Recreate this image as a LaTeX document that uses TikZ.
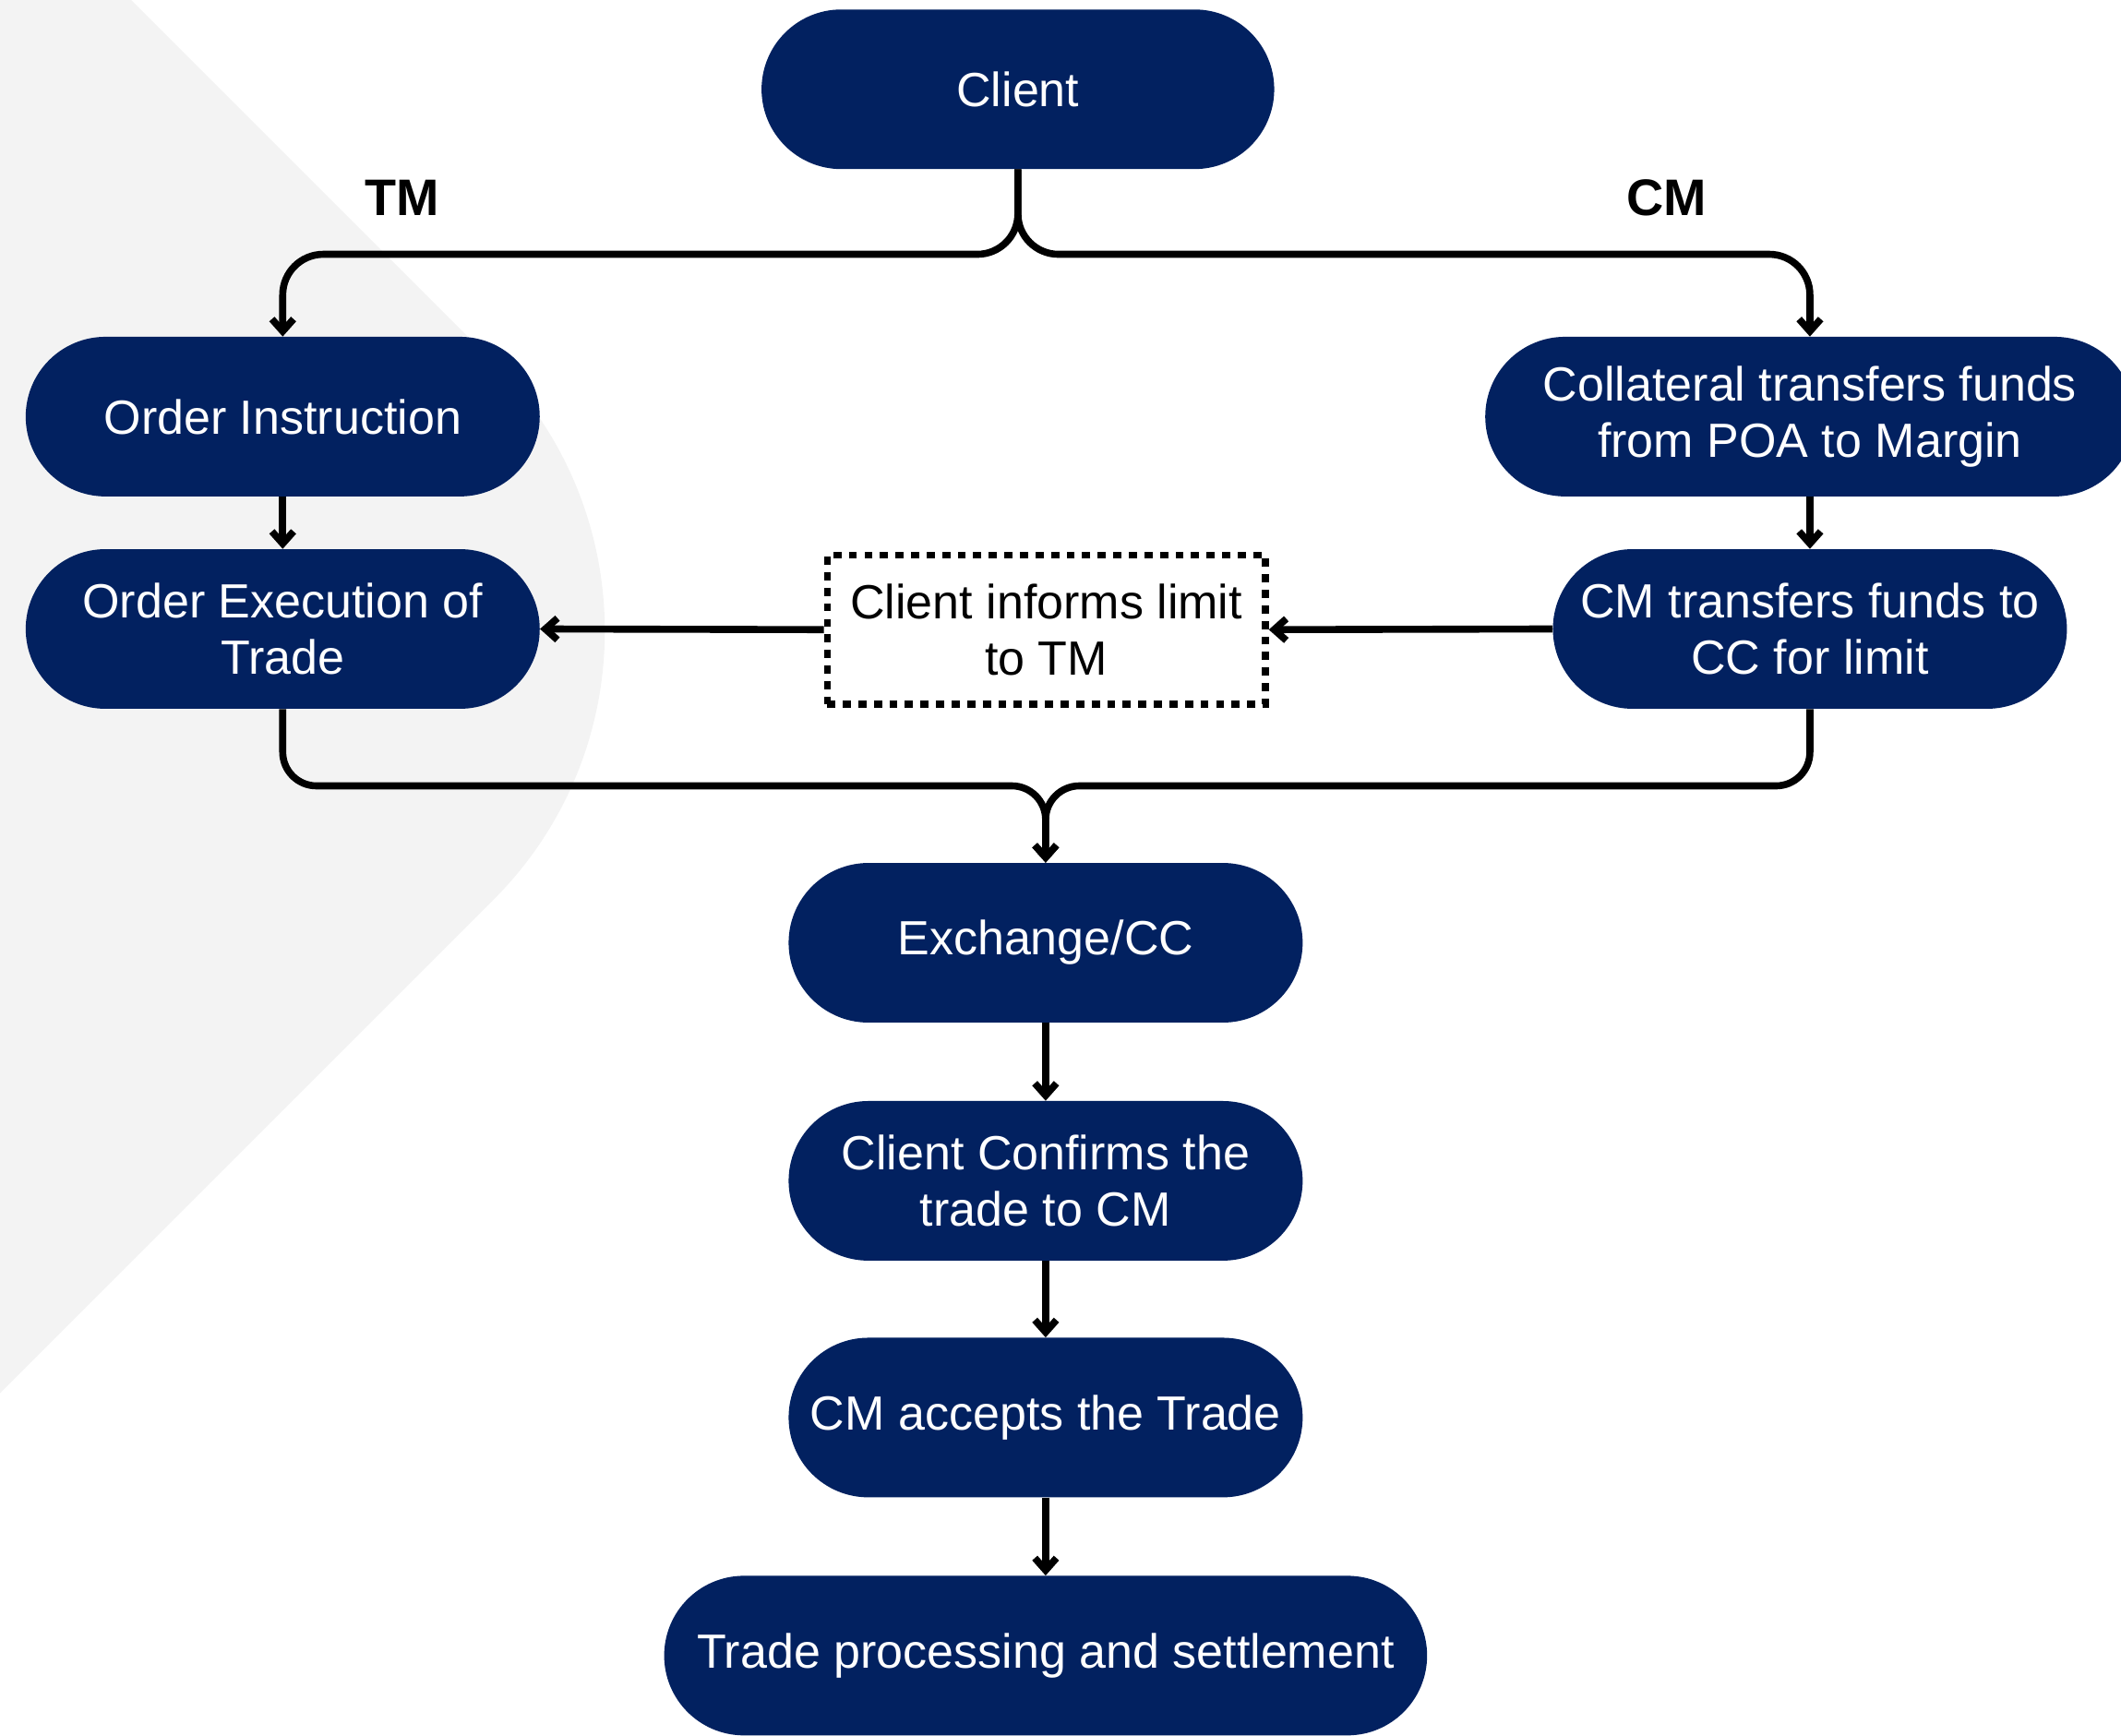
\documentclass[tikz,border=0pt]{standalone}
\usepackage{fontspec}
\setmainfont{Liberation Sans}
\usetikzlibrary{arrows.meta}
\definecolor{navy}{RGB}{2,33,96}
\definecolor{bggray}{RGB}{243,243,243}
\begin{document}
\begin{tikzpicture}[x=1pt,y=-1pt,
  pill/.style={fill=navy, rounded corners=59pt, minimum height=118pt, text=white,
    align=center, inner sep=0pt, font=\fontsize{35.5}{42}\selectfont},
  lbl/.style={font=\fontsize{38}{44}\selectfont\bfseries, text=black, inner sep=0pt},
  conn/.style={draw=black, line width=5.2pt},
  tip/.style={-{Straight Barb[length=9pt,width=16pt]}},
  dotbox/.style={draw=black, line width=5pt, dash pattern=on 6pt off 5.5pt,
    minimum width=324pt, minimum height=110pt, align=center, inner sep=0pt,
    font=\fontsize{35.5}{42}\selectfont}
]
\useasboundingbox (0,0) rectangle (1568,1283);
\clip (0,0) rectangle (1568,1283);
% background shape
\fill[bggray] (0,0) -- (97,0) [rounded corners=281pt] -- (563.5,466.5) [sharp corners] -- (0,1030) -- cycle;

% nodes
\node[pill, minimum width=379pt] (client) at (752.5,66) {Client};
\node[lbl] (tm) at (297,146) {TM};
\node[lbl] (cm) at (1232,146) {CM};
\node[pill, minimum width=380pt] (orderinst) at (209,308) {Order Instruction};
\node[pill, minimum width=480pt] (collat) at (1338,308) {Collateral transfers funds\\from POA to Margin};
\node[pill, minimum width=380pt] (orderexec) at (209,465) {Order Execution of\\Trade};
\node[dotbox] (informs) at (773.5,465.5) {Client informs limit\\to TM};
\node[pill, minimum width=380pt] (cmtrans) at (1338,465) {CM transfers funds to\\CC for limit};
\node[pill, minimum width=380pt] (exchange) at (773,697) {Exchange/CC};
\node[pill, minimum width=380pt] (confirms) at (773,873) {Client Confirms the\\trade to CM};
\node[pill, minimum width=380pt] (accepts) at (773,1048) {CM accepts the Trade};
\node[pill, minimum width=564pt] (trade) at (773,1224) {Trade processing and settlement};

% connectors
\coordinate (split) at (752.5,188);
\coordinate (merge) at (773,581);
\draw[conn, tip, rounded corners=30pt] (client.south) -- (split) -| (orderinst.north);
\draw[conn, tip, rounded corners=30pt] (client.south) -- (split) -| (collat.north);
\draw[conn, tip] (orderinst.south) -- (orderexec.north);
\draw[conn, tip] (collat.south) -- (cmtrans.north);
\draw[conn, tip] (cmtrans.west) -- (informs.east);
\draw[conn, tip] (informs.west) -- (orderexec.east);
\draw[conn, tip, rounded corners=25pt] (orderexec.south) |- (merge) -- (exchange.north);
\draw[conn, tip, rounded corners=25pt] (cmtrans.south) |- (merge) -- (exchange.north);
\draw[conn, tip] (exchange.south) -- (confirms.north);
\draw[conn, tip] (confirms.south) -- (accepts.north);
\draw[conn, tip] (accepts.south) -- (trade.north);
\end{tikzpicture}
\end{document}
